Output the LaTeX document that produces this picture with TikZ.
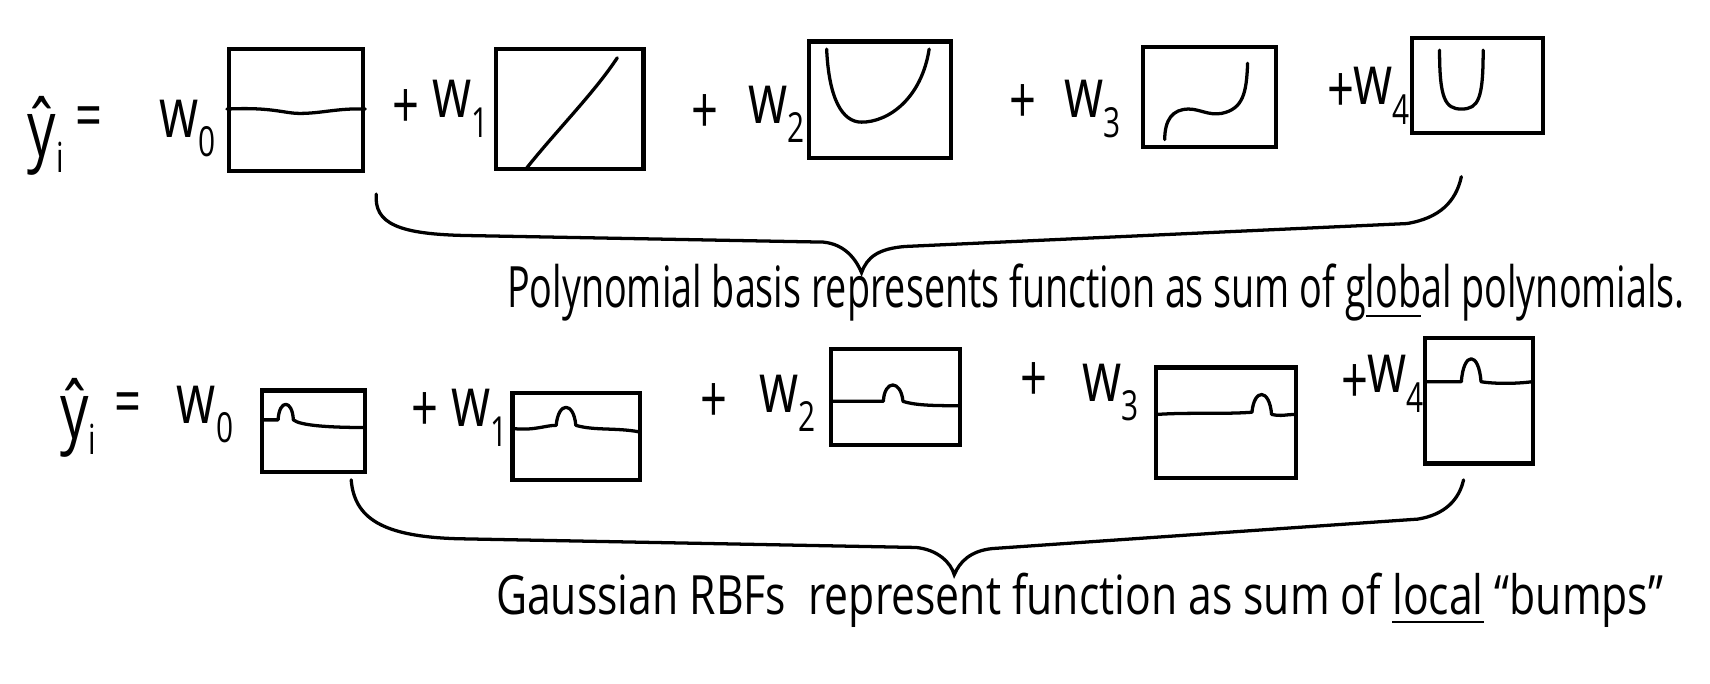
\documentclass[tikz,border=0pt]{standalone}
\usepackage{fontspec}
\usetikzlibrary{fit}
\newfontfamily\hand[FakeStretch=0.72]{Open Sans}
\newcommand{\wl}[1]{{\hand\fontsize{32}{32}\selectfont w\raisebox{-0.28em}{\fontsize{19}{19}\selectfont #1}}}
\newcommand{\yhat}{{\hand\fontsize{36}{36}\selectfont \^{y}\raisebox{-0.2em}{\fontsize{19}{19}\selectfont i}}}
\newcommand{\pl}{{\hand\fontsize{30}{30}\selectfont +}}
\newcommand{\eq}{{\hand\fontsize{30}{30}\selectfont =}}
\tikzset{
  box/.style={draw, line width=1.9pt, inner sep=0pt},
  crv/.style={line width=1.5pt, line cap=round, line join=round},
  brc/.style={line width=1.5pt, line cap=round},
  lbl/.style={inner sep=0pt},
  every node/.style={text=black}
}
\begin{document}
\begin{tikzpicture}[x=0.5pt,y=-0.5pt]
\useasboundingbox (0,0) rectangle (1568,627);
% ---------- row 1 ----------
\node[lbl] (y1) at (42,125) {\yhat};
\node[lbl] (e1) at (82,112) {\eq};
\node[lbl] (w10) at (172,118) {\wl{0}};
\node[box, fit={(210,45)(333,157)}] (p0) {};
\node[lbl] (pl11) at (372,100) {\pl};
\node[lbl] (w11) at (422,100) {\wl{1}};
\node[box, fit={(455,45)(590,155)}] (p1) {};
\node[lbl] (pl12) at (646,105) {\pl};
\node[lbl] (w12) at (712,105) {\wl{2}};
\node[box, fit={(742,38)(872,145)}] (p2) {};
\node[lbl] (pl13) at (938,95) {\pl};
\node[lbl] (w13) at (1002,100) {\wl{3}};
\node[box, fit={(1048,43)(1170,135)}] (p3) {};
\node[lbl] (pl14) at (1230,85) {\pl};
\node[lbl] (w14) at (1267,88) {\wl{4}};
\node[box, fit={(1295,35)(1415,122)}] (p4) {};
% curves inside
\draw[crv] (p0.west |- 0,100) .. controls (250,98) and (260,104) .. (275,104) .. controls (295,104) and (310,99) .. (p0.east |- 0,100);
\draw[crv] (483,154) .. controls (510,120) and (545,85) .. (566,53);
\draw[crv] (758,45) .. controls (760,90) and (772,112) .. (790,112) .. controls (815,112) and (845,90) .. (852,45);
\draw[crv] (1068,128) .. controls (1068,110) and (1075,100) .. (1090,100) .. controls (1100,100) and (1108,106) .. (1120,104) .. controls (1140,100) and (1143,85) .. (1144,58);
\draw[crv] (1320,46) .. controls (1320,90) and (1325,100) .. (1340,100) .. controls (1356,100) and (1360,90) .. (1360,46);
% brace 1
\coordinate (b1l) at (345,178);
\coordinate (b1m) at (790,250);
\coordinate (b1r) at (1340,162);
\draw[brc] (b1l) .. controls (343,205) and (365,215) .. (430,216) -- (755,222) .. controls (775,224) and (785,238) .. (b1m) .. controls (795,236) and (805,228) .. (830,226) -- (1290,205) .. controls (1320,200) and (1335,185) .. (b1r);
\node[lbl] (t1) at (1005,268) {\resizebox{540pt}{20pt}{\hand Polynomial basis represents function as sum of g\underline{lob}al polynomials.}};
% ---------- row 2 ----------
\node[lbl] (y2) at (72,383) {\yhat};
\node[lbl] (e2) at (117,375) {\eq};
\node[lbl] (w20) at (188,380) {\wl{0}};
\node[box, fit={(240,358)(335,433)}] (g0) {};
\node[lbl] (pl21) at (390,378) {\pl};
\node[lbl] (w21) at (440,383) {\wl{1}};
\node[box, fit={(470,360)(587,440)}] (g1) {};
\node[lbl] (pl22) at (655,370) {\pl};
\node[lbl] (w22) at (722,370) {\wl{2}};
\node[box, fit={(762,320)(880,408)}] (g2) {};
\node[lbl] (pl23) at (948,350) {\pl};
\node[lbl] (w23) at (1018,360) {\wl{3}};
\node[box, fit={(1060,337)(1188,438)}] (g3) {};
\node[lbl] (pl24) at (1242,352) {\pl};
\node[lbl] (w24) at (1280,352) {\wl{4}};
\node[box, fit={(1307,310)(1406,425)}] (g4) {};
% bumps
\draw[crv] (241,385) -- (255,385) .. controls (256,366) and (268,366) .. (269,385) .. controls (275,390) and (300,392) .. (334,392);
\draw[crv] (471,393) .. controls (490,395) and (500,390) .. (510,390) .. controls (512,368) and (526,368) .. (528,390) .. controls (545,395) and (565,392) .. (586,396);
\draw[crv] (763,368) -- (810,368) .. controls (811,348) and (826,348) .. (828,368) .. controls (840,372) and (860,372) .. (879,372);
\draw[crv] (1061,380) .. controls (1090,378) and (1120,380) .. (1148,378) .. controls (1150,356) and (1164,356) .. (1166,380) .. controls (1175,382) and (1180,380) .. (1187,380);
\draw[crv] (1308,350) -- (1340,350) .. controls (1342,322) and (1356,322) .. (1358,350) .. controls (1370,352) and (1390,352) .. (1405,350);
% brace 2
\coordinate (b2l) at (322,440);
\coordinate (b2m) at (875,527);
\coordinate (b2r) at (1342,440);
\draw[brc] (b2l) .. controls (325,475) and (350,492) .. (420,494) -- (840,502) .. controls (860,504) and (872,516) .. (b2m) .. controls (880,515) and (890,505) .. (910,503) -- (1300,476) .. controls (1325,472) and (1338,458) .. (b2r);
\node[lbl] (t2) at (990,550) {\resizebox{535pt}{19pt}{\hand Gaussian RBFs\ \ represent function as sum of \underline{local} “bumps”}};
\end{tikzpicture}
\end{document}
